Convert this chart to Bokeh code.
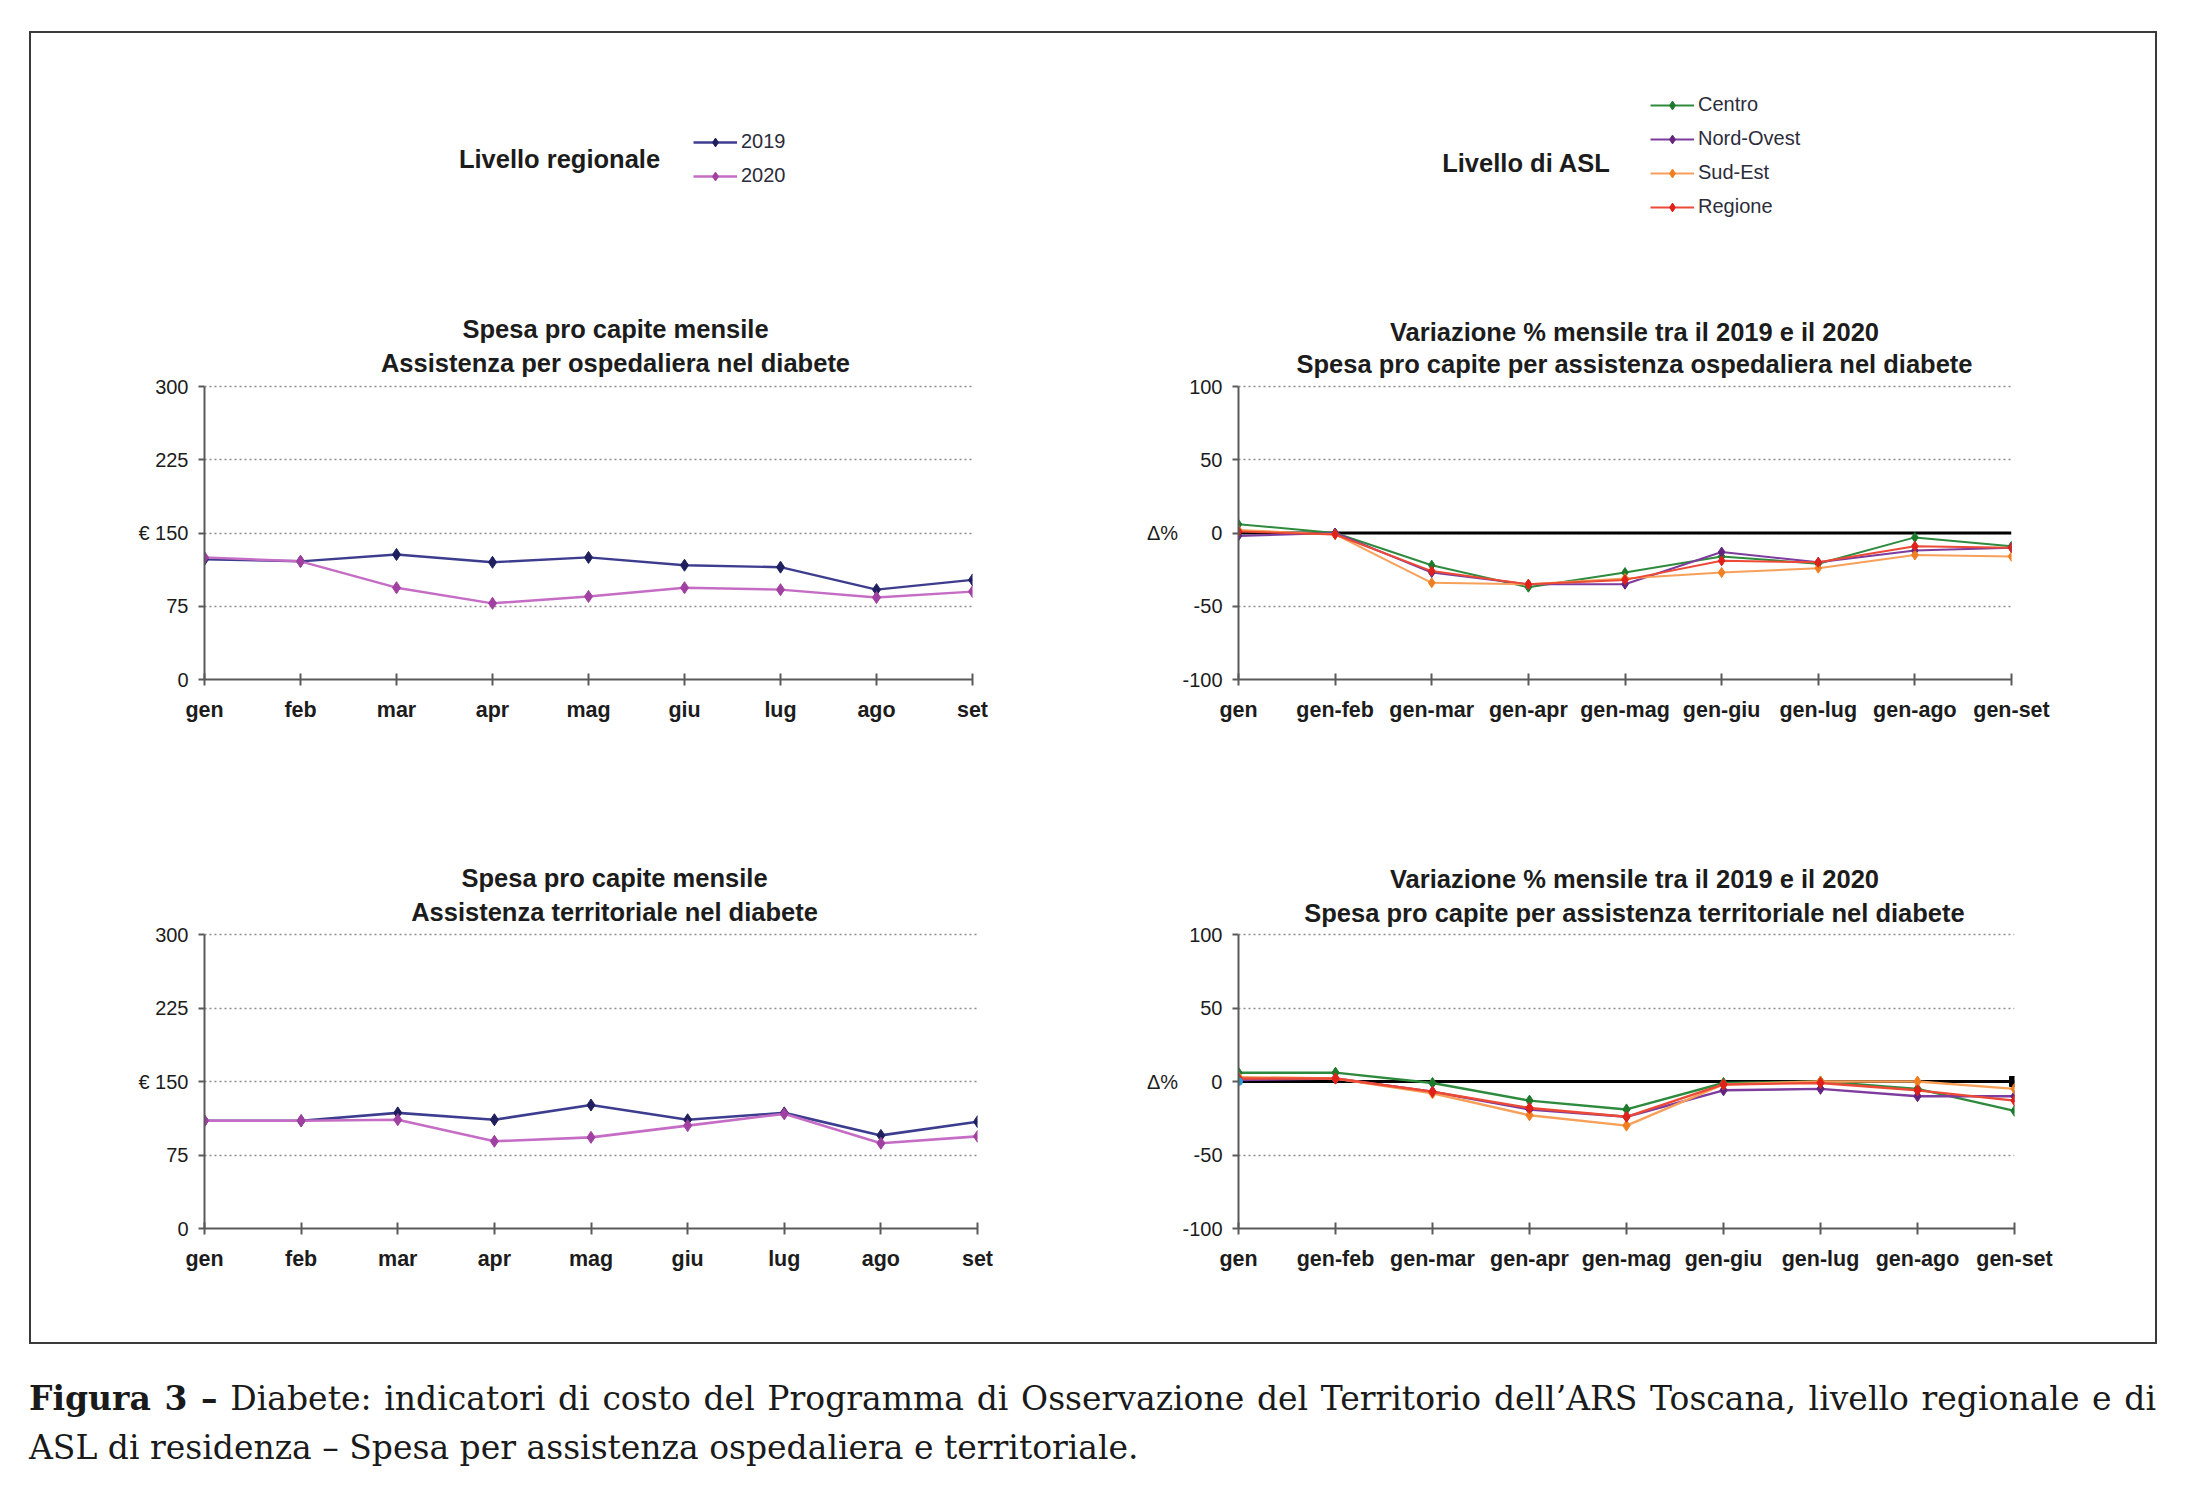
from bokeh.plotting import figure
from bokeh.models import Label, Legend, LegendItem, FixedTicker, Div, Range1d
from bokeh.layouts import column, row
from bokeh.embed import file_html
from bokeh.resources import INLINE

# ---------------- data ----------------
months = ["gen", "feb", "mar", "apr", "mag", "giu", "lug", "ago", "set"]
periods = ["gen", "gen-feb", "gen-mar", "gen-apr", "gen-mag", "gen-giu", "gen-lug", "gen-ago", "gen-set"]

euro_ticks = [0, 75, 150, 225, 300]
euro_tick_labels = ["0", "75", "€ 150", "225", "300"]
pct_ticks = [-100, -50, 0, 50, 100]
pct_tick_labels = ["-100", "-50", "Δ%\u00a0\u00a0\u00a0\u00a0\u00a0\u00a00", "50", "100"]

# Spesa pro capite mensile - assistenza ospedaliera (EUR)
osp_2019 = [123, 121, 128, 120, 125, 117, 115, 92, 102]
osp_2020 = [125, 121, 94, 78, 85, 94, 92, 84, 90]
# Spesa pro capite mensile - assistenza territoriale (EUR)
ter_2019 = [110, 110, 118, 111, 126, 111, 118, 95, 109]
ter_2020 = [110, 110, 111, 89, 93, 105, 117, 87, 94]

# Variazione % 2019-2020, ospedaliera
osp_centro = [6, 0, -22, -37, -27, -16, -21, -3, -9]
osp_nordovest = [-2, 0, -27, -35, -35, -13, -20, -12, -10]
osp_sudest = [2, -1, -34, -35, -31, -27, -24, -15, -16]
osp_regione = [1, -1, -26, -35, -32, -19, -20, -9, -10]
# Variazione % 2019-2020, territoriale
ter_centro = [6, 6, -1, -13, -19, -1, 0, -5, -20]
ter_nordovest = [1, 2, -7, -19, -24, -6, -5, -10, -10]
ter_sudest = [3, 2, -8, -23, -30, -2, 0, 0, -5]
ter_regione = [2, 2, -7, -18, -24, -2, -1, -6, -13]
# linea di riferimento (0%)
zero_ref = [0, 0, 0, 0, 0, 0, 0, 0, 0]

FONT = "Liberation Sans"
TXT = "#1c1c1c"
TITLE_SIZE = "25.5px"

C2019 = ("#3d3d8f", "#1f1f5e")
C2020 = ("#c56cc5", "#a040a0")
CCENTRO = ("#2e8b3e", "#1d7a2d")
CNORD = ("#7d3c9e", "#63247f")
CSUD = ("#f6a05a", "#f07f22")
CREG = ("#ec4a36", "#e0201a")


def make_fig(width, height, bl, br, bb, data_lo, data_hi, data_px, ticks, tick_labels, xlabels):
    # frame starts at the top of the figure; the header (titles, legend) lives inside the frame
    frame_h = height - bb
    top = data_lo + (data_hi - data_lo) * frame_h / data_px
    p = figure(width=width, height=height, x_range=Range1d(0, len(xlabels) - 1),
               y_range=Range1d(data_lo, top), output_backend="svg", toolbar_location=None,
               min_border_left=bl, min_border_right=br, min_border_top=0,
               min_border_bottom=bb, title=None)
    p.outline_line_color = None
    p.background_fill_color = "white"
    p.border_fill_color = "white"
    p.xgrid.visible = False
    p.ygrid.grid_line_color = "#8c8c8c"
    p.ygrid.grid_line_dash = "2 3"
    p.ygrid.grid_line_width = 1.5
    p.ygrid.ticker = FixedTicker(ticks=ticks)

    p.xaxis.ticker = FixedTicker(ticks=list(range(len(xlabels))))
    p.xaxis.major_label_overrides = {i: lab for i, lab in enumerate(xlabels)}
    p.yaxis.ticker = FixedTicker(ticks=ticks)
    p.yaxis.major_label_overrides = {t: l for t, l in zip(ticks, tick_labels)}
    p.yaxis.bounds = (data_lo, data_hi)
    for ax in (p.xaxis[0], p.yaxis[0]):
        ax.axis_line_color = "#5a5a5a"
        ax.axis_line_width = 2
        ax.major_tick_line_color = "#5a5a5a"
        ax.major_tick_line_width = 2
        ax.minor_tick_line_color = None
        ax.major_label_text_font = FONT
        ax.major_label_text_color = TXT
    p.xaxis.major_tick_in = 6
    p.xaxis.major_tick_out = 6
    p.xaxis.major_label_text_font_style = "bold"
    p.xaxis.major_label_text_font_size = "21.5px"
    p.xaxis.major_label_standoff = 12
    p.yaxis.major_tick_in = 0
    p.yaxis.major_tick_out = 6
    p.yaxis.major_label_text_font_size = "20px"
    p.yaxis.major_label_standoff = 10
    return p


def add_text(p, cx, cy, t, size=TITLE_SIZE):
    p.add_layout(Label(x=cx, y=cy, x_units="screen", y_units="screen", text=t,
                       text_font=FONT, text_font_style="bold", text_font_size=size,
                       text_color=TXT, text_align="center", text_baseline="middle"))


def add_series(p, ys, colors, size=11, width=2.2):
    xs = list(range(len(ys)))
    r1 = p.line(xs, ys, line_color=colors[0], line_width=width)
    r2 = p.scatter(xs, ys, marker="diamond", size=size, fill_color=colors[1], line_color=colors[1])
    return [r1, r2]


def add_legend(p, items, loc):
    lg = Legend(items=[LegendItem(label=lab, renderers=rs) for lab, rs in items],
                location=loc, orientation="vertical", padding=0, margin=0, spacing=11,
                glyph_width=44, glyph_height=22, label_height=22, label_standoff=4,
                label_text_font=FONT, label_text_font_size="20px", label_text_color="#2c2c3a",
                border_line_color=None, background_fill_alpha=0)
    p.add_layout(lg)


# ---------------- top-left ----------------
tl = make_fig(1069, 727, 173, 128, 81, 0, 300, 293, euro_ticks, euro_tick_labels, months)
r19 = add_series(tl, osp_2019, C2019, size=12, width=2.4)
r20 = add_series(tl, osp_2020, C2020, size=12, width=2.4)
add_text(tl, 411, 351, "Spesa pro capite mensile")
add_text(tl, 411, 317, "Assistenza per ospedaliera nel diabete")
add_text(tl, 355, 521, "Livello regionale")
add_legend(tl, [("2019", r19), ("2020", r20)], (489, 492))

# ---------------- top-right ----------------
tr = make_fig(1055, 727, 138, 144, 81, -100, 100, 293, pct_ticks, pct_tick_labels, periods)
tr.line(list(range(len(zero_ref))), zero_ref, line_color="black", line_width=3)
rc = add_series(tr, osp_centro, CCENTRO, size=10, width=2)
rn = add_series(tr, osp_nordovest, CNORD, size=10, width=2)
rs = add_series(tr, osp_sudest, CSUD, size=10, width=2)
rr = add_series(tr, osp_regione, CREG, size=10, width=2)
add_text(tr, 396, 348, "Variazione % mensile tra il 2019 e il 2020")
add_text(tr, 396, 316, "Spesa pro capite per assistenza ospedaliera nel diabete")
add_text(tr, 288, 517, "Livello di ASL")
add_legend(tr, [("Centro", rc), ("Nord-Ovest", rn), ("Sud-Est", rs), ("Regione", rr)], (412, 461))

# ---------------- bottom-left ----------------
bl = make_fig(1069, 582, 173, 123, 114, 0, 300, 294, euro_ticks, euro_tick_labels, months)
add_series(bl, ter_2019, C2019, size=12, width=2.6)
add_series(bl, ter_2020, C2020, size=12, width=2.6)
add_text(bl, 410, 351, "Spesa pro capite mensile")
add_text(bl, 410, 317, "Assistenza territoriale nel diabete")

# ---------------- bottom-right ----------------
br = make_fig(1055, 582, 138, 141, 114, -100, 100, 294, pct_ticks, pct_tick_labels, periods)
xz = list(range(len(zero_ref)))
br.line(xz, zero_ref, line_color="black", line_width=3)
br.scatter(xz[-1:], zero_ref[-1:], marker="square", size=10, fill_color="black", line_color="black")
add_series(br, ter_centro, CCENTRO, size=11, width=2.4)
add_series(br, ter_nordovest, CNORD, size=11, width=2.4)
add_series(br, ter_sudest, CSUD, size=11, width=2.4)
add_series(br, ter_regione, CREG, size=11, width=2.4)
br.scatter(xz[:1], zero_ref[:1], marker="circle", size=8, fill_color="#2aa0d8", line_color="#2aa0d8")
add_text(br, 396, 350, "Variazione % mensile tra il 2019 e il 2020")
add_text(br, 396, 316, "Spesa pro capite per assistenza territoriale nel diabete")

# ---------------- frame & caption ----------------
FRAME = "#3a3a3a"


def block(w, h, bg=None):
    st = {"background-color": bg} if bg else {}
    return Div(text="", width=w, height=h, margin=0, styles=st)


grid = column(row(tl, tr, spacing=0), row(bl, br, spacing=0), spacing=0)
framed = column(block(2128, 2, FRAME),
                row(block(2, 1309, FRAME), grid, block(2, 1309, FRAME), spacing=0),
                block(2128, 2, FRAME), spacing=0)

cap_html = (
    "<div style='font-family:\"DejaVu Serif\";font-size:33px;line-height:49px;color:#1a1a1a;width:2127px;margin:0;padding:0'>"
    "<div style='text-align:justify;text-align-last:justify;white-space:nowrap;width:2127px'>"
    "<b>Figura 3 –</b> Diabete: indicatori di costo del Programma di Osservazione del Territorio "
    "dell’ARS Toscana, livello regionale e di</div>"
    "<div>ASL di residenza – Spesa per assistenza ospedaliera e territoriale.</div></div>"
)
caption = Div(text=cap_html, width=2130, height=100, margin=0)

layout = column(
    block(10, 31),
    row(block(29, 10), framed, spacing=0),
    block(10, 30),
    row(block(29, 10), caption, spacing=0),
    spacing=0,
)

open("out.html", "w").write(file_html(layout, INLINE))
